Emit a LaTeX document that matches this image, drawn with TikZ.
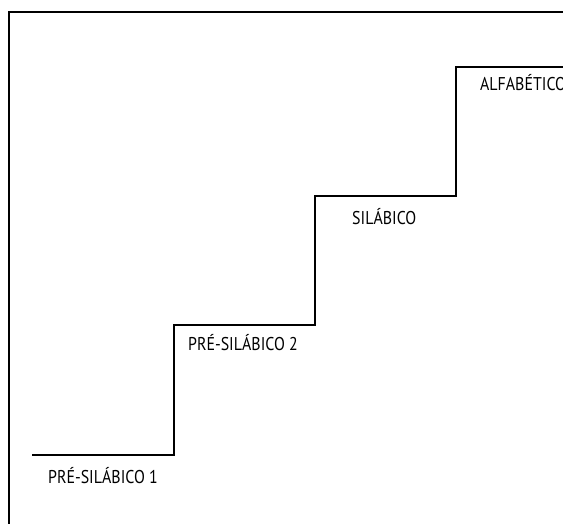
\documentclass[tikz,border=0pt]{standalone}
\usepackage{fontspec}
\setmainfont{PT Sans}
\begin{document}
\begin{tikzpicture}[x=1pt,y=-1pt,
  stair/.style={line width=2.6pt,line join=miter,line cap=rect},
  frame/.style={line width=2.8pt},
  lbl/.style={font=\fontsize{18.5}{18.5}\selectfont,inner sep=0pt,xscale=0.86,anchor=west}]
\useasboundingbox (0,0) rectangle (563,524);
\clip (0,0) rectangle (563,524);
\fill[white] (0,0) rectangle (563,524);
% frame
\coordinate (fb) at (9,530);
\coordinate (ftl) at (9,12);
\coordinate (fr) at (570,12);
\draw[frame] (fb) -- (ftl) -- (fr);
% stairs
\coordinate (s0) at (33,455);
\coordinate (s1) at (174,455);
\coordinate (s2) at (174,325);
\coordinate (s3) at (315,325);
\coordinate (s4) at (315,196);
\coordinate (s5) at (456,196);
\coordinate (s6) at (456,67);
\coordinate (s7) at (570,67);
\draw[stair] (s0) -- (s1) -- (s2) -- (s3) -- (s4) -- (s5) -- (s6) -- (s7);
% labels
\node[lbl] (l1) at (48,476) {PRÉ-SILÁBICO 1};
\node[lbl] (l2) at (188,343) {PRÉ-SILÁBICO 2};
\node[lbl] (l3) at (352,217) {SILÁBICO};
\node[lbl] (l4) at (480,83) {ALFABÉTICO};
\end{tikzpicture}
\end{document}
